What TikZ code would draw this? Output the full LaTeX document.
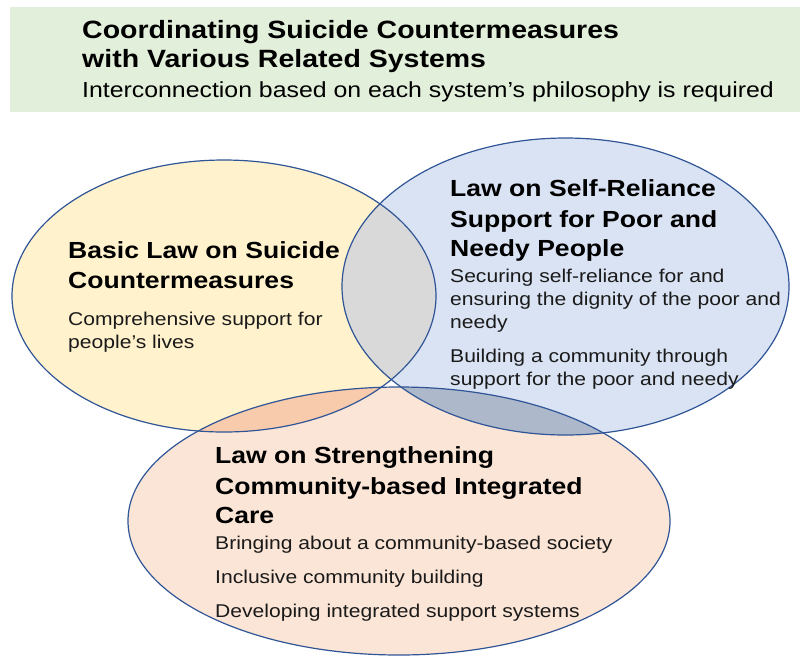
\documentclass[tikz,border=0pt]{standalone}
\usepackage{fontspec}
\setmainfont{Liberation Sans}[FakeStretch=1.14]
\definecolor{hdrgreen}{HTML}{E2EFDA}
\definecolor{yelfill}{HTML}{FFF2CC}
\definecolor{bluefill}{HTML}{DAE3F3}
\definecolor{peachfill}{HTML}{FBE5D6}
\definecolor{ybover}{HTML}{D9D9D9}
\definecolor{ypover}{HTML}{F8CBAD}
\definecolor{bpover}{HTML}{ADB9CA}
\definecolor{edge}{HTML}{2F5597}
\definecolor{bodytext}{HTML}{1A1A1A}
\def\pyel{(224,296) ellipse [x radius=212pt, y radius=136pt]}
\def\pblu{(565.5,286.5) ellipse [x radius=223.5pt, y radius=148.5pt]}
\def\ppea{(399,521) ellipse [x radius=271pt, y radius=134pt]}
\begin{document}
\begin{tikzpicture}[x=1pt,y=-1pt,
  txt/.style={anchor=base west, inner sep=0pt, text=black},
  ttl/.style={txt, font=\fontsize{25}{30}\selectfont\bfseries},
  subttl/.style={txt, font=\fontsize{21.8}{26}\selectfont},
  hd/.style={txt, font=\fontsize{23.3}{28}\selectfont\bfseries},
  bd/.style={txt, text=bodytext, font=\fontsize{18.5}{22}\selectfont},
  outline/.style={draw=edge, line width=1.2pt}]
\useasboundingbox (0,0) rectangle (800,657);
% header band
\fill[hdrgreen] (10,7) rectangle (800,112);
% base fills
\fill[yelfill] \pyel;
\fill[bluefill] \pblu;
\fill[peachfill] \ppea;
% overlaps
\begin{scope}
  \clip \pyel;
  \fill[ybover] \pblu;
\end{scope}
\begin{scope}
  \clip \pyel;
  \fill[ypover] \ppea;
\end{scope}
\begin{scope}
  \clip \pblu;
  \fill[bpover] \ppea;
\end{scope}
% outlines
\draw[outline] \pyel;
\draw[outline] \pblu;
\draw[outline] \ppea;
% header text
\node[ttl] (t1) at (82,38) {Coordinating Suicide Countermeasures};
\node[ttl] (t2) at (82,67) {with Various Related Systems};
\node[subttl] (t3) at (82,97.5) {Interconnection based on each system’s philosophy is required};
% yellow
\node[hd] (y1) at (68,258.5) {Basic Law on Suicide};
\node[hd] (y2) at (68,288.5) {Countermeasures};
\node[bd] (y3) at (68,325) {Comprehensive support for};
\node[bd] (y4) at (68,348) {people’s lives};
% blue
\node[hd] (b1) at (450,196.5) {Law on Self-Reliance};
\node[hd] (b2) at (450,227) {Support for Poor and};
\node[hd] (b3) at (450,256.5) {Needy People};
\node[bd] (b4) at (450,282.5) {Securing self-reliance for and};
\node[bd] (b5) at (450,305.5) {ensuring the dignity of the poor and};
\node[bd] (b6) at (450,328) {needy};
\node[bd] (b7) at (450,362) {Building a community through};
\node[bd] (b8) at (450,385) {support for the poor and needy};
% peach
\node[hd] (p1) at (215,463.5) {Law on Strengthening};
\node[hd] (p2) at (215,494) {Community-based Integrated};
\node[hd] (p3) at (215,523) {Care};
\node[bd] (p4) at (215,549.5) {Bringing about a community-based society};
\node[bd] (p5) at (215,583.5) {Inclusive community building};
\node[bd] (p6) at (215,617) {Developing integrated support systems};
\end{tikzpicture}
\end{document}
